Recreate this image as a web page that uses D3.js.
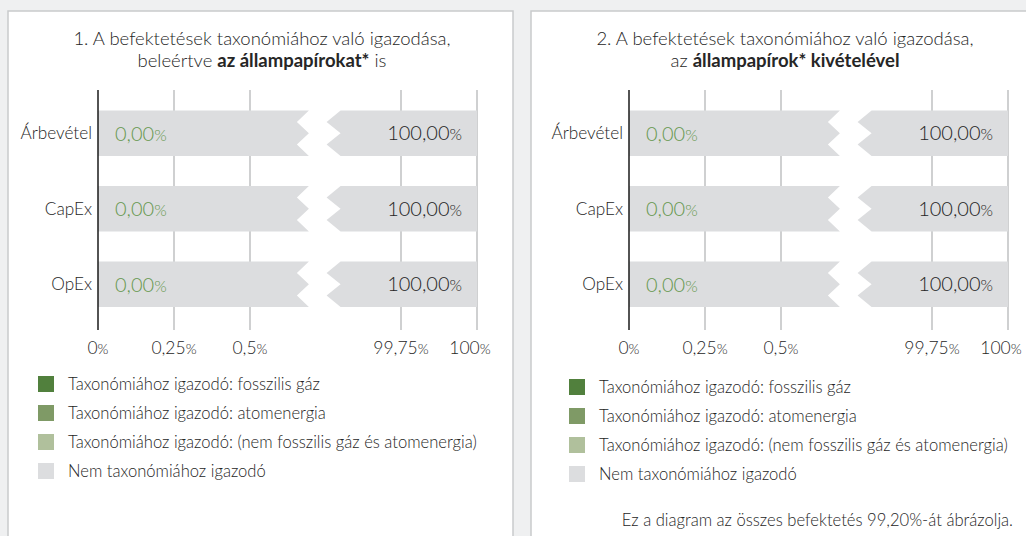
<!DOCTYPE html>
<html lang="hu">
<head>
    <meta charset="UTF-8">
    <title>Taxonómiához való igazodás</title>
    <script src="https://d3js.org/d3.v7.js"></script>
    <style>
        body { margin: 0; background: #eff0f1; }
        svg { display: block; font-family: Lato, "Open Sans", sans-serif; font-weight: 300; }
        .panel { fill: #fff; stroke: #c9cacc; stroke-width: 1.5px; }
        .grid line { stroke: #bfc0c2; stroke-width: 1.5px; }
        text { fill: #262626; }
    </style>
</head>
<body>
<svg width="1026" height="536"></svg>
<script>
    // ---- data ----
    let categories = ["Árbevétel", "CapEx", "OpEx"];
    let seriesNames = [
        "Taxonómiához igazodó: fosszilis gáz",
        "Taxonómiához igazodó: atomenergia",
        "Taxonómiához igazodó: (nem fosszilis gáz és atomenergia)",
        "Nem taxonómiához igazodó"
    ];
    let seriesColors = ["#51803d", "#7f9a66", "#b0c09c", "#dcdddf"];
    // chart 1: including sovereign bonds
    let fossilGas1 = [0, 0, 0];
    let nuclear1 = [0, 0, 0];
    let otherAligned1 = [0, 0, 0];
    let notAligned1 = [100, 100, 100];
    // chart 2: excluding sovereign bonds
    let fossilGas2 = [0, 0, 0];
    let nuclear2 = [0, 0, 0];
    let otherAligned2 = [0, 0, 0];
    let notAligned2 = [100, 100, 100];
    let tickValues = [0, 0.25, 0.5, 99.75, 100];
    let tickLabels = ["0", "0,25", "0,5", "99,75", "100"];

    let panels = [
        {
            border: 8, dx: 0, legendY: 384,
            title: [[["1. A befektetések taxonómiához való igazodása,", false]],
                    [["beleértve ", false], ["az állampapírokat*", true], [" is", false]]],
            series: [fossilGas1, nuclear1, otherAligned1, notAligned1],
            note: null
        },
        {
            border: 531, dx: 531, legendY: 387,
            title: [[["2. A befektetések taxonómiához való igazodása,", false]],
                    [["az ", false], ["állampapírok* kivételével", true]]],
            series: [fossilGas2, nuclear2, otherAligned2, notAligned2],
            note: "Ez a diagram az összes befektetés 99,20%-át ábrázolja."
        }
    ];

    let svg = d3.select("svg");
    let fmt = v => v.toFixed(2).replace(".", ",");

    // broken axis: 0 .. 0,5 | 99,75 .. 100
    let x = d3.scaleLinear()
        .domain([0, 0.5, 99.75, 100])
        .range([98, 250, 401, 477]);
    let y = d3.scaleBand()
        .domain(categories)
        .range([95.5, 322])
        .paddingInner(0.4)
        .paddingOuter(0.2);

    // where the grey bar is cut
    let breakL = x(0.5) + 0.39 * (x(99.75) - x(0.5));
    let breakR = x(0.5) + 0.6 * (x(99.75) - x(0.5));

    function pctText(sel, num) {
        sel.append("tspan").text(num);
        sel.append("tspan").attr("font-size", "0.8em").text("%");
    }

    panels.forEach(p => {
        let g = svg.append("g");

        g.append("rect").attr("class", "panel")
            .attr("x", p.border).attr("y", 11)
            .attr("width", 505).attr("height", 540);

        // title
        let cx = p.border + 254;
        p.title.forEach((line, i) => {
            let t = g.append("text")
                .attr("x", cx).attr("y", 45 + i * 22)
                .attr("text-anchor", "middle")
                .attr("font-size", 18.5);
            line.forEach(part => {
                t.append("tspan")
                    .attr("font-weight", part[1] ? 700 : 300)
                    .text(part[0]);
            });
        });

        let c = g.append("g").attr("transform", "translate(" + p.dx + ",0)");

        // grid lines
        c.append("g").attr("class", "grid")
            .selectAll("line")
            .data(tickValues.slice(1))
            .join("line")
            .attr("x1", d => x(d)).attr("x2", d => x(d))
            .attr("y1", 90).attr("y2", 330);

        // stacked bars
        let rows = categories.map((cat, i) => {
            let vals = p.series.map(s => s[i]);
            let aligned = d3.sum(vals.slice(0, 3));
            return { cat: cat, vals: vals, aligned: aligned };
        });

        rows.forEach(r => {
            let top = y(r.cat), h = y.bandwidth(), bot = top + h;
            let start = 0;
            r.vals.slice(0, 3).forEach((v, k) => {
                c.append("rect")
                    .attr("x", x(start)).attr("y", top)
                    .attr("width", x(start + v) - x(start)).attr("height", h)
                    .attr("fill", seriesColors[k]);
                start += v;
            });
            // not aligned part, drawn with a zigzag break
            let x0 = x(start), x1 = x(start + r.vals[3]);
            let n = 12, m = 14;
            let left = [[x0, top], [breakL, top], [breakL - n, top + h / 4], [breakL, top + h / 2],
                        [breakL - n, top + 3 * h / 4], [breakL, bot], [x0, bot]];
            let right = [[breakR, top], [x1, top], [x1, bot], [breakR, bot],
                         [breakR - m, top + 3 * h / 4], [breakR, top + h / 2], [breakR - m, top + h / 4]];
            [left, right].forEach(pts => {
                c.append("path")
                    .attr("d", d3.line()(pts) + "Z")
                    .attr("fill", seriesColors[3]);
            });

            // value labels
            c.append("text")
                .attr("x", x(0) + 17).attr("y", top + h / 2 + 7.5)
                .attr("font-size", 20)
                .style("fill", "#67984f")
                .call(pctText, fmt(r.aligned));
            c.append("text")
                .attr("x", x(100) - 15).attr("y", top + h / 2 + 7)
                .attr("text-anchor", "end")
                .attr("font-size", 20)
                .call(pctText, fmt(r.vals[3]));

            // category label
            c.append("text")
                .attr("x", x(0) - 6).attr("y", top + h / 2 + 6)
                .attr("text-anchor", "end")
                .attr("font-size", 17.2)
                .text(r.cat);
        });

        // zero line
        c.append("line")
            .attr("x1", x(0)).attr("x2", x(0))
            .attr("y1", 90).attr("y2", 330)
            .attr("stroke", "#1a1a1a").attr("stroke-width", 1.5);

        // tick labels
        c.selectAll(".tick")
            .data(tickValues)
            .join("text")
            .attr("class", "tick")
            .attr("x", (d, i) => x(d) - (i === tickValues.length - 1 ? 7 : 0)).attr("y", 354)
            .attr("text-anchor", "middle")
            .attr("font-size", 17.5)
            .each(function (d, i) { d3.select(this).call(pctText, tickLabels[i]); });

        // legend
        let lg = c.selectAll(".leg")
            .data(seriesNames)
            .join("g")
            .attr("class", "leg")
            .attr("transform", (d, i) => "translate(38," + (p.legendY + i * 29) + ")");
        lg.append("rect")
            .attr("x", 0).attr("y", -8).attr("width", 16).attr("height", 16)
            .attr("fill", (d, i) => seriesColors[i]);
        lg.append("text")
            .attr("x", 30).attr("y", 6)
            .attr("font-size", 16.6)
            .text(d => d);

        if (p.note) {
            c.append("text")
                .attr("x", 482).attr("y", 526)
                .attr("text-anchor", "end")
                .attr("font-size", 16.6)
                .text(p.note);
        }
    });
</script>
</body>
</html>
